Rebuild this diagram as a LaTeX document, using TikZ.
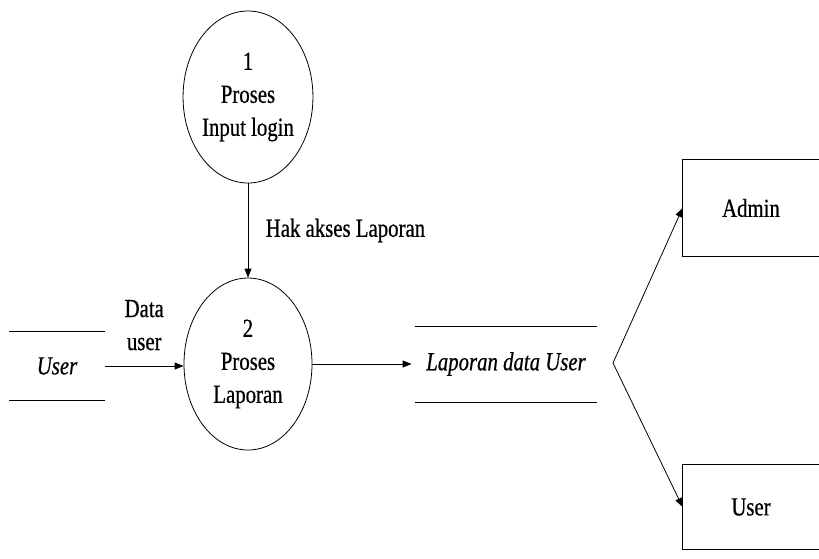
\documentclass[tikz,border=0pt]{standalone}
\usepackage{fontspec}
\setmainfont[FakeStretch=0.8,FakeBold=0.6]{Liberation Serif}
\usetikzlibrary{shapes.geometric,arrows.meta}
\newcommand{\teks}{\fontsize{26}{33}\selectfont}
\tikzset{
  proses/.style={draw, ellipse, minimum width=128pt, minimum height=172pt, align=center, inner sep=0pt},
  simpan/.style={inner sep=0pt, font=\teks\itshape},
  entitas/.style={inner sep=0pt},
  alir/.style={-{Triangle[length=9pt,width=7pt]}}
}

\begin{document}
\begin{tikzpicture}[x=1pt, y=-1pt, line width=0.8pt, font=\teks]
\useasboundingbox (0,0) rectangle (819,558);
% proses
\node[proses] (p1) at (248,97) {1\\Proses\\Input login};
\node[proses] (p2) at (248,364) {2\\Proses\\Laporan};
% data store
\node[simpan, minimum width=95pt, minimum height=68pt] (usr) at (57,366) {User};
\draw (usr.north west) -- (usr.north east);
\draw (usr.south west) -- (usr.south east);
\node[simpan, minimum width=182pt, minimum height=75pt] (lap) at (506,364) {Laporan data User};
\draw (lap.north west) -- (lap.north east);
\draw (lap.south west) -- (lap.south east);
% entitas luar
\node[entitas, minimum width=136pt, minimum height=96pt] (admin) at (751,208) {Admin};
\draw (admin.north east) -- (admin.north west) -- (admin.south west) -- (admin.south east);
\node[entitas, minimum width=136pt, minimum height=84pt] (user) at (751,507) {User};
\draw (user.north east) -- (user.north west) -- (user.south west) -- (user.south east);
% aliran
\draw[alir] (p1) -- (p2) node[midway, right=14pt] {Hak akses Laporan};
\draw[alir] (usr.east) -- (usr.east -| p2.west) node[midway, above=12pt, align=center] {Data\\user};
\draw[alir] (p2.east) -- ([xshift=-3pt]lap.west);
\coordinate (cabang) at (613,363);
\draw[alir] (cabang) -- (admin.west);
\draw[alir] (cabang) -- (user.west);
\end{tikzpicture}
\end{document}
